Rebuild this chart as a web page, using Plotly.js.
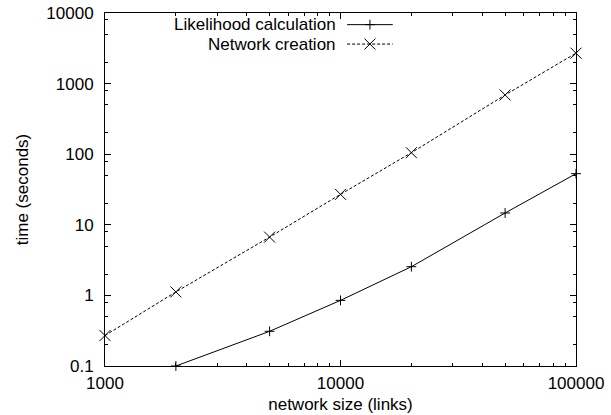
<!DOCTYPE html>
<html>
<head>
<meta charset="utf-8">
<script src="https://cdn.plot.ly/plotly-3.0.1.min.js"></script>
<style>
html,body{margin:0;padding:0;background:#fff;}
#chart{width:611px;height:415px;}
</style>
</head>
<body>
<div id="chart"></div>
<script>
// ---- data ----
var likelihoodSizes = [2000, 5000, 10000, 20000, 50000, 100000];
var likelihoodTimes = [0.1, 0.31, 0.85, 2.55, 14.7, 53];
var creationSizes = [1000, 2000, 5000, 10000, 20000, 50000, 100000];
var creationTimes = [0.27, 1.12, 6.7, 27, 105, 690, 2700];
var seriesNames = ["Likelihood calculation", "Network creation"];

var xTickVals = [1000, 10000, 100000];
var xTickText = ["1000", "10000", "100000"];
var yTickVals = [0.1, 1, 10, 100, 1000, 10000];
var yTickText = ["0.1", "1", "10", "100", "1000", "10000"];
var xMinorVals = [2000, 3000, 4000, 5000, 6000, 7000, 8000, 9000,
                  20000, 30000, 40000, 50000, 60000, 70000, 80000, 90000];
var yMinorVals = [0.2, 0.5, 0.8, 2, 5, 8, 20, 50, 80, 200, 500, 800, 2000, 5000, 8000];

var FONT = "'Liberation Sans', Arial, Helvetica, sans-serif";
var FS = 17;

var traces = [
  {
    x: likelihoodSizes, y: likelihoodTimes, name: seriesNames[0],
    type: "scatter", mode: "lines+markers", showlegend: false,
    line: {color: "#000", width: 1},
    marker: {symbol: "cross-thin-open", size: 7, color: "#000", line: {color: "#000", width: 1}},
    cliponaxis: false
  },
  {
    x: creationSizes, y: creationTimes, name: seriesNames[1],
    type: "scatter", mode: "lines+markers", showlegend: false,
    line: {color: "#000", width: 1, dash: "3px,2px"},
    marker: {symbol: "x-thin-open", size: 11, color: "#000", line: {color: "#000", width: 1}},
    cliponaxis: false
  }
];

// legend (gnuplot style: text left, sample right)
var legTextX = 0.4926;
var sampleX0 = 0.514, sampleX1 = 0.611, sampleMid = 0.5625;
var row1 = 0.967, row2 = 0.912;

var annotations = [
  {xref: "paper", yref: "paper", x: legTextX, y: row1, xanchor: "right", yanchor: "middle",
   text: seriesNames[0], showarrow: false, borderpad: 0, font: {family: FONT, size: FS, color: "#000"}},
  {xref: "paper", yref: "paper", x: legTextX, y: row2, xanchor: "right", yanchor: "middle",
   text: seriesNames[1], showarrow: false, borderpad: 0, font: {family: FONT, size: FS, color: "#000"}}
];

var shapes = [
  {type: "line", xref: "paper", yref: "paper", x0: sampleX0, x1: sampleX1, y0: row1, y1: row1,
   line: {color: "#000", width: 1}},
  {type: "line", xref: "paper", yref: "paper", x0: sampleX0, x1: sampleX1, y0: row2, y1: row2,
   line: {color: "#000", width: 1, dash: "3px,2px"}},
  {type: "line", xref: "paper", yref: "paper", xsizemode: "pixel", ysizemode: "pixel",
   xanchor: sampleMid, yanchor: row1, x0: -4.9, x1: 4.9, y0: 0, y1: 0, line: {color: "#000", width: 1}},
  {type: "line", xref: "paper", yref: "paper", xsizemode: "pixel", ysizemode: "pixel",
   xanchor: sampleMid, yanchor: row1, x0: 0, x1: 0, y0: -4.9, y1: 4.9, line: {color: "#000", width: 1}},
  {type: "line", xref: "paper", yref: "paper", xsizemode: "pixel", ysizemode: "pixel",
   xanchor: sampleMid, yanchor: row2, x0: -5.5, x1: 5.5, y0: -5.5, y1: 5.5, line: {color: "#000", width: 1}},
  {type: "line", xref: "paper", yref: "paper", xsizemode: "pixel", ysizemode: "pixel",
   xanchor: sampleMid, yanchor: row2, x0: -5.5, x1: 5.5, y0: 5.5, y1: -5.5, line: {color: "#000", width: 1}}
];

var axisCommon = {
  type: "log",
  showgrid: false, zeroline: false,
  showline: true, linecolor: "#000", linewidth: 1, mirror: "allticks",
  ticks: "inside", ticklen: 6, tickwidth: 1, tickcolor: "#000",
  tickfont: {family: FONT, size: FS, color: "#000"},
  automargin: false
};

var layout = {
  width: 611, height: 415,
  margin: {l: 105, r: 35, t: 13, b: 49, pad: 0},
  paper_bgcolor: "#fff", plot_bgcolor: "#fff",
  showlegend: false,
  font: {family: FONT, size: FS, color: "#000"},
  xaxis: Object.assign({}, axisCommon, {
    range: [2.99999, 5.00001],
    tickmode: "array", tickvals: xTickVals, ticktext: xTickText,
    ticklabelstandoff: 2,
    minor: {tickmode: "array", tickvals: xMinorVals, ticks: "inside", ticklen: 3, tickwidth: 1, tickcolor: "#000", showgrid: false},
    title: {text: "network size (links)", font: {family: FONT, size: FS, color: "#000"}, standoff: 5}
  }),
  yaxis: Object.assign({}, axisCommon, {
    range: [-1.00001, 4.00001],
    tickmode: "array", tickvals: yTickVals, ticktext: yTickText,
    ticklabelstandoff: 7,
    minor: {tickmode: "array", tickvals: yMinorVals, ticks: "inside", ticklen: 3, tickwidth: 1, tickcolor: "#000", showgrid: false},
    title: {text: "time (seconds)", font: {family: FONT, size: FS, color: "#000"}, standoff: 13}
  }),
  annotations: annotations,
  shapes: shapes
};

Plotly.newPlot("chart", traces, layout, {displayModeBar: false, staticPlot: true});
</script>
</body>
</html>
